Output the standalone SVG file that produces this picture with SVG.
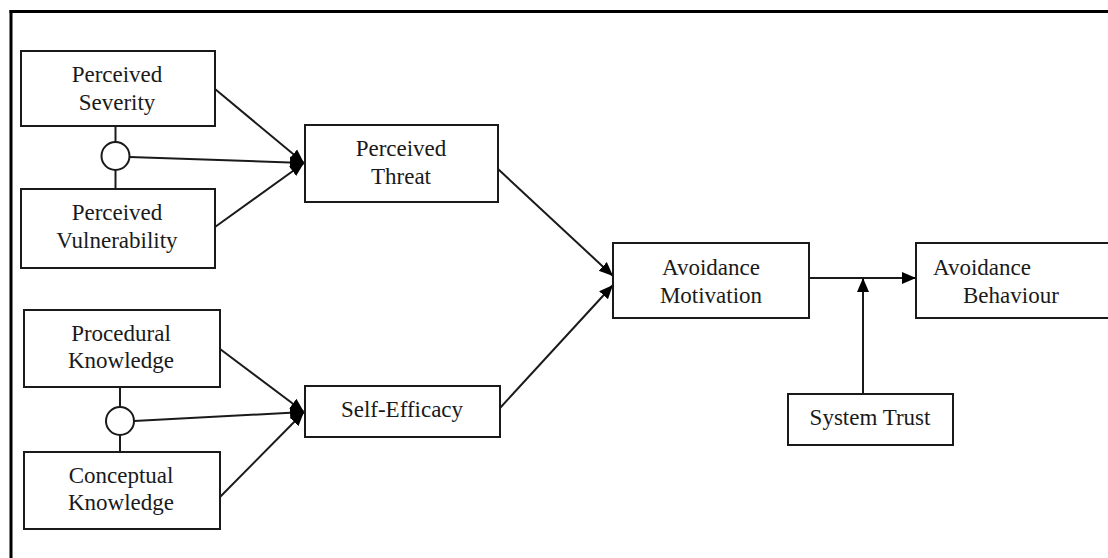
<svg xmlns="http://www.w3.org/2000/svg" width="1108" height="558" viewBox="0 0 1108 558">
<style>
.box{fill:#fff;stroke:#1a1a1a;stroke-width:2}
.t{font-family:"Liberation Serif","Times New Roman",serif;font-size:23px;fill:#1a1a1a}
.c{text-anchor:middle}
.ln{stroke:#1a1a1a;stroke-width:2;fill:none}
.circ{fill:#fff;stroke:#1a1a1a;stroke-width:2}
</style>
<defs>
<marker id="ah" markerUnits="userSpaceOnUse" markerWidth="16" markerHeight="14" refX="14" refY="7" orient="auto">
<path d="M0,1 L14,7 L0,13 Z" fill="#000"/>
</marker>
</defs>
<rect x="0" y="0" width="1108" height="558" fill="#fff"/>
<g id="frame">
<line x1="9.5" y1="11.5" x2="1108" y2="11.5" stroke="#000" stroke-width="3"/>
<line x1="11" y1="10" x2="11" y2="558" stroke="#000" stroke-width="3"/>
</g>
<g id="connectors">
<line class="ln" x1="115.5" y1="126" x2="115.5" y2="142"/>
<line class="ln" x1="115.5" y1="170" x2="115.5" y2="189"/>
<line class="ln" x1="120" y1="387" x2="120" y2="407"/>
<line class="ln" x1="120" y1="435" x2="120" y2="452"/>
<line class="ln" x1="215" y1="89" x2="304" y2="163" marker-end="url(#ah)"/>
<line class="ln" x1="129.5" y1="157" x2="304" y2="163" marker-end="url(#ah)"/>
<line class="ln" x1="215" y1="227" x2="304" y2="163" marker-end="url(#ah)"/>
<line class="ln" x1="220" y1="349" x2="304" y2="412" marker-end="url(#ah)"/>
<line class="ln" x1="134" y1="421" x2="304" y2="412" marker-end="url(#ah)"/>
<line class="ln" x1="220" y1="497" x2="304" y2="412" marker-end="url(#ah)"/>
<line class="ln" x1="498" y1="169" x2="613" y2="276" marker-end="url(#ah)"/>
<line class="ln" x1="500" y1="408" x2="613" y2="285" marker-end="url(#ah)"/>
<line class="ln" x1="809" y1="278" x2="916" y2="278" marker-end="url(#ah)"/>
<line class="ln" x1="863" y1="394" x2="863" y2="278" marker-end="url(#ah)"/>
<circle class="circ" cx="115.5" cy="156" r="14"/>
<circle class="circ" cx="120" cy="421" r="14"/>
</g>
<g id="perceived-severity">
<rect class="box" x="21" y="51" width="194" height="75"/>
<text class="t c" x="117" y="82">Perceived</text>
<text class="t c" x="117" y="110">Severity</text>
</g>
<g id="perceived-vulnerability">
<rect class="box" x="21" y="189" width="194" height="79"/>
<text class="t c" x="117" y="220">Perceived</text>
<text class="t c" x="117" y="248">Vulnerability</text>
</g>
<g id="procedural-knowledge">
<rect class="box" x="24" y="310" width="196" height="77"/>
<text class="t c" x="121" y="341">Procedural</text>
<text class="t c" x="121" y="368">Knowledge</text>
</g>
<g id="conceptual-knowledge">
<rect class="box" x="24" y="452" width="196" height="77"/>
<text class="t c" x="121" y="483">Conceptual</text>
<text class="t c" x="121" y="510">Knowledge</text>
</g>
<g id="perceived-threat">
<rect class="box" x="305" y="125" width="193" height="77"/>
<text class="t c" x="401" y="156">Perceived</text>
<text class="t c" x="401" y="184">Threat</text>
</g>
<g id="self-efficacy">
<rect class="box" x="305" y="386" width="195" height="51"/>
<text class="t c" x="402" y="417">Self-Efficacy</text>
</g>
<g id="avoidance-motivation">
<rect class="box" x="613" y="243" width="196" height="75"/>
<text class="t c" x="711" y="275">Avoidance</text>
<text class="t c" x="711" y="303">Motivation</text>
</g>
<g id="avoidance-behaviour">
<rect class="box" x="916" y="243" width="200" height="75"/>
<text class="t" x="933" y="275">Avoidance</text>
<text class="t" x="963" y="303">Behaviour</text>
</g>
<g id="system-trust">
<rect class="box" x="788" y="394" width="165" height="51"/>
<text class="t c" x="870" y="425">System Trust</text>
</g>
</svg>
